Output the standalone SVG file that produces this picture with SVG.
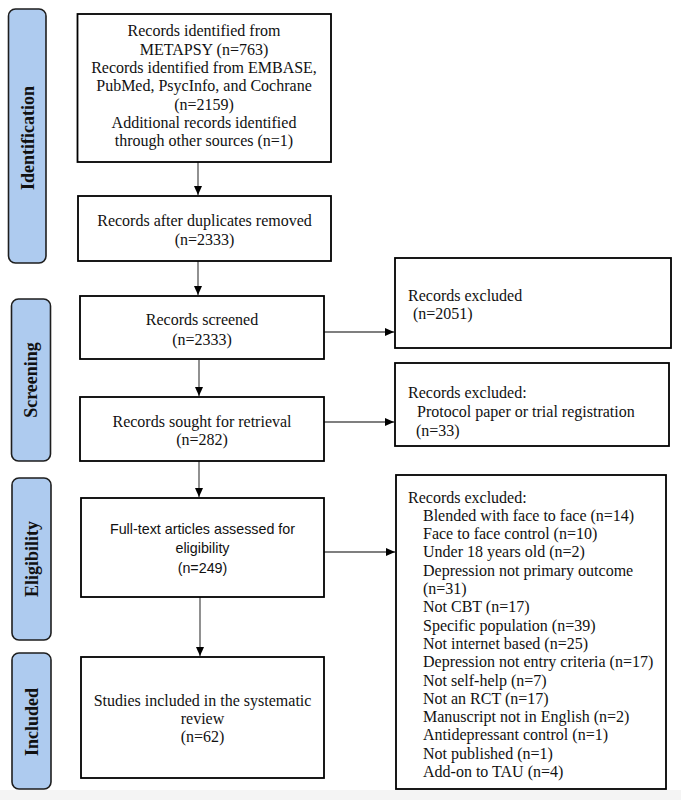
<svg xmlns="http://www.w3.org/2000/svg" width="681" height="800" viewBox="0 0 681 800">
<style>
.side{fill:#aecbef;stroke:#1e1e1e;stroke-width:1.6}
.box{fill:#fff;stroke:#000;stroke-width:1.8}
.t{font-family:"Liberation Serif","Times New Roman",serif;font-size:16px;fill:#111}
.c{text-anchor:middle}
.s{font-family:"Liberation Sans",Arial,sans-serif;font-size:14.3px;fill:#111;text-anchor:middle}
.lab{font-family:"Liberation Serif","Times New Roman",serif;font-size:18px;font-weight:bold;fill:#111;text-anchor:middle;dominant-baseline:central}
.con{stroke:#555;stroke-width:1.3;fill:none;marker-end:url(#ah)}
</style>
<defs>
<marker id="ah" markerUnits="userSpaceOnUse" markerWidth="10" markerHeight="10" refX="9" refY="5" orient="auto">
<path d="M0,1 L9,5 L0,9 Z" fill="#000"/>
</marker>
</defs>
<rect x="0" y="0" width="681" height="800" fill="#fff"/>
<rect x="0" y="790" width="681" height="10" fill="#f4f4f4"/>

<g id="side-identification"><rect class="side" x="8.5" y="9" width="37.5" height="254" rx="7"/><text class="lab" transform="translate(27.5,138) rotate(-90)">Identification</text></g>
<g id="side-screening"><rect class="side" x="11.5" y="299" width="39" height="162" rx="7"/><text class="lab" transform="translate(31,380) rotate(-90)">Screening</text></g>
<g id="side-eligibility"><rect class="side" x="12" y="478" width="39" height="162" rx="7"/><text class="lab" transform="translate(31.5,559) rotate(-90)">Eligibility</text></g>
<g id="side-included"><rect class="side" x="12" y="653" width="39" height="136" rx="7"/><text class="lab" transform="translate(31.5,722) rotate(-90)">Included</text></g>

<g id="connectors">
<line class="con" x1="198" y1="162" x2="198" y2="195"/>
<line class="con" x1="198" y1="261" x2="198" y2="295"/>
<line class="con" x1="199" y1="360" x2="199" y2="396"/>
<line class="con" x1="199" y1="461" x2="199" y2="497"/>
<line class="con" x1="200" y1="597" x2="200" y2="656"/>
<line class="con" x1="324" y1="332" x2="394" y2="332"/>
<line class="con" x1="324" y1="422" x2="394" y2="422"/>
<line class="con" x1="324" y1="552" x2="395" y2="552"/>
</g>

<g id="identified"><rect class="box" x="77.5" y="14" width="253.5" height="148"/>
<text class="t c" x="204" y="36">Records identified from</text>
<text class="t c" x="204" y="54.5">METAPSY (n=763)</text>
<text class="t c" x="204" y="72.8">Records identified from EMBASE,</text>
<text class="t c" x="204" y="91">PubMed, PsycInfo, and Cochrane</text>
<text class="t c" x="204" y="109.5">(n=2159)</text>
<text class="t c" x="204" y="127.8">Additional records identified</text>
<text class="t c" x="204" y="146">through other sources (n=1)</text>
</g>
<g id="dedup"><rect class="box" x="78" y="196" width="253" height="65"/>
<text class="t c" x="204.5" y="226">Records after duplicates removed</text>
<text class="t c" x="204.5" y="244.5">(n=2333)</text>
</g>
<g id="screened"><rect class="box" x="80" y="296" width="244" height="63"/>
<text class="t c" x="202" y="325">Records screened</text>
<text class="t c" x="202" y="345">(n=2333)</text>
</g>
<g id="sought"><rect class="box" x="80" y="397" width="244" height="64"/>
<text class="t c" x="202" y="427">Records sought for retrieval</text>
<text class="t c" x="202" y="445">(n=282)</text>
</g>
<g id="fulltext"><rect class="box" x="81" y="498" width="243" height="99"/>
<text class="s" x="202.5" y="534">Full-text articles assessed for</text>
<text class="s" x="202.5" y="553">eligibility</text>
<text class="s" x="202.5" y="573">(n=249)</text>
</g>
<g id="included"><rect class="box" x="81" y="657" width="243" height="121"/>
<text class="t c" x="202.5" y="705.5">Studies included in the systematic</text>
<text class="t c" x="202.5" y="723.5">review</text>
<text class="t c" x="202.5" y="742">(n=62)</text>
</g>

<g id="excluded1"><rect class="box" x="395" y="258" width="276" height="90"/>
<text class="t" x="408" y="301">Records excluded</text>
<text class="t" x="413" y="318.5">(n=2051)</text>
</g>
<g id="excluded2"><rect class="box" x="395" y="363" width="274" height="83"/>
<text class="t" x="408" y="398">Records excluded:</text>
<text class="t" x="417" y="417">Protocol paper or trial registration</text>
<text class="t" x="416" y="435.5">(n=33)</text>
</g>
<g id="excluded3"><rect class="box" x="396" y="475" width="270" height="314"/>
<text class="t" x="408" y="502.5">Records excluded:</text>
<text class="t" x="423" y="520.8">Blended with face to face (n=14)</text>
<text class="t" x="423" y="539.1">Face to face control (n=10)</text>
<text class="t" x="423" y="557.4">Under 18 years old (n=2)</text>
<text class="t" x="423" y="575.7">Depression not primary outcome</text>
<text class="t" x="423" y="594">(n=31)</text>
<text class="t" x="423" y="612.3">Not CBT (n=17)</text>
<text class="t" x="423" y="630.6">Specific population (n=39)</text>
<text class="t" x="423" y="648.9">Not internet based (n=25)</text>
<text class="t" x="423" y="667.2">Depression not entry criteria (n=17)</text>
<text class="t" x="423" y="685.5">Not self-help (n=7)</text>
<text class="t" x="423" y="703.8">Not an RCT (n=17)</text>
<text class="t" x="423" y="722.1">Manuscript not in English (n=2)</text>
<text class="t" x="423" y="740.4">Antidepressant control (n=1)</text>
<text class="t" x="423" y="758.7">Not published (n=1)</text>
<text class="t" x="423" y="777">Add-on to TAU (n=4)</text>
</g>
</svg>
